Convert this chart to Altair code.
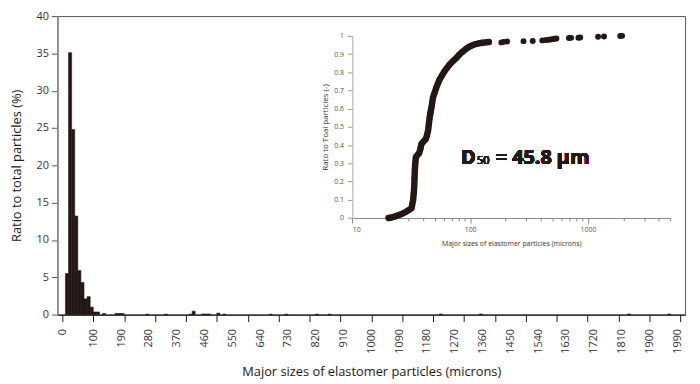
import altair as alt
import pandas as pd

DARK = "#231815"

# ---------------- main histogram ----------------
bin_start = [10, 20, 30, 40, 50, 60, 70, 80, 90, 100, 110, 130, 170, 180, 190,
             270, 330, 410, 420, 450, 460, 470, 500, 520, 670, 720, 820, 860,
             1220, 1350, 1830, 1960]
bin_pct = [5.5, 35.1, 24.8, 13.2, 5.9, 4.3, 2.1, 2.4, 1.0, 0.35, 0.35, 0.15, 0.15, 0.15, 0.15,
           0.06, 0.06, 0.05, 0.45, 0.08, 0.08, 0.08, 0.2, 0.06, 0.06, 0.06, 0.06, 0.06,
           0.08, 0.08, 0.08, 0.08]
BIN_W = 10

x_tick_values = list(range(0, 2001, 100))
x_label_values = [0, 100, 190, 280, 370, 460, 550, 640, 730, 820, 910, 1000, 1090, 1180,
                  1270, 1360, 1450, 1540, 1630, 1720, 1810, 1900, 1990]
y_tick_values = [0, 5, 10, 15, 20, 25, 30, 35, 40]

# ---------------- inset cumulative curve ----------------
cdf_size = [20.3, 21.5, 23.1, 24.6, 26.2, 27.5, 28.9, 30.3, 31.8, 32.8, 33.2, 33.5, 33.7,
            33.9, 34.2, 34.6, 35.6, 36.9, 37.8, 38.6, 40.2, 42.0, 43.0, 43.9, 44.6, 45.3,
            46.1, 46.9, 47.6, 48.3, 49.9, 51.5, 53.2, 55.0, 57.7, 60.5, 63.5, 66.7, 71.1,
            75.9, 80.8, 86.1, 92.0, 98.1, 104.5, 111.6, 119.0, 126.8, 135.0, 144.3,
            184, 193, 206, 284, 340, 410, 440, 460, 480, 500, 520, 540, 690, 720, 830, 860,
            1220, 1370, 1880, 1950]
cdf_ratio = [0.0, 0.003, 0.009, 0.015, 0.022, 0.029, 0.036, 0.045, 0.054, 0.099, 0.135, 0.171,
             0.215, 0.262, 0.3, 0.334, 0.345, 0.356, 0.38, 0.407, 0.42, 0.434, 0.455, 0.479,
             0.515, 0.551, 0.58, 0.606, 0.633, 0.66, 0.688, 0.714, 0.738, 0.76, 0.783, 0.805,
             0.824, 0.841, 0.86, 0.877, 0.896, 0.913, 0.928, 0.94, 0.948, 0.955, 0.959, 0.962,
             0.964, 0.966,
             0.964, 0.967, 0.969, 0.971, 0.972, 0.975, 0.977, 0.978, 0.98, 0.982, 0.984, 0.985,
             0.988, 0.989, 0.99, 0.991, 0.995, 0.996, 0.999, 1.0]

inset_major = [10, 100, 1000]
inset_x_ticks = [10, 20, 30, 40, 50, 60, 70, 80, 90, 100, 200, 300, 400, 500, 600, 700, 800,
                 900, 1000, 2000, 3000, 4000, 5000]
inset_y_ticks = [0, 0.1, 0.2, 0.3, 0.4, 0.5, 0.6, 0.7, 0.8, 0.9, 1]

hist_df = pd.DataFrame({"start": bin_start, "pct": bin_pct})
hist_df["end"] = hist_df["start"] + BIN_W
cdf_df = pd.DataFrame({"size": cdf_size, "ratio": cdf_ratio})

W, H = 635, 302

bars = alt.Chart(hist_df).mark_bar(color=DARK, stroke=DARK, strokeWidth=0.6,
                                   orient="vertical").encode(
    x=alt.X("start:Q",
            scale=alt.Scale(domain=[0, 2000], nice=False, zero=False),
            axis=alt.Axis(
                values=sorted(set(x_tick_values + x_label_values)),
                labelExpr=f"indexof({x_label_values}, datum.value) >= 0 ? datum.label : ''",
                format="d", labelAngle=270, labelOverlap=False,
                labelFontSize=11, labelColor="#333333", labelPadding=7,
                tickSize=7, tickColor=DARK,
                tickOpacity={"condition": {"test": "datum.value % 100 != 0", "value": 0}, "value": 1},
                domainColor=DARK, domainWidth=1.2,
                title="Major sizes of elastomer particles (microns)",
                titleFontSize=13, titleFontWeight="normal", titleColor=DARK, titlePadding=12)),
    x2="end:Q",
    y=alt.Y("pct:Q",
            scale=alt.Scale(domain=[0, 40], nice=False, zero=True),
            axis=alt.Axis(values=y_tick_values, labelFontSize=11, labelColor="#333333",
                          labelPadding=3, tickSize=6, tickColor="#555555",
                          domainColor="#888888", domainWidth=1.5,
                          title="Ratio to total particles (%)",
                          titleFontSize=13, titleFontWeight="normal", titleColor=DARK,
                          titlePadding=13)),
    y2=alt.datum(0),
)

inset_x = alt.X("size:Q",
                scale=alt.Scale(type="log", domain=[10, 5000], range=[298.4, 620], nice=False),
                axis=alt.Axis(orient="bottom", offset=-97.7, values=inset_x_ticks,
                              labelExpr=f"indexof({inset_major}, datum.value) >= 0 ? datum.label : ''",
                              format="d", labelOverlap=False, labelFontSize=7,
                              labelColor="#555555", labelPadding=3,
                              tickSize={"condition": {"test": f"indexof({inset_major}, datum.value) >= 0", "value": 5}, "value": 3},
                              tickColor="#888888", domainColor="#888888",
                              title="Major sizes of elastomer particles (microns)",
                              titleFontSize=7, titleFontWeight="normal",
                              titleColor="#333333", titlePadding=7))
inset_y = alt.Y("ratio:Q",
                scale=alt.Scale(domain=[0, 1], range=[204.3, 20], nice=False, zero=False),
                axis=alt.Axis(orient="left", offset=-298.4, values=inset_y_ticks, format="~g",
                              labelFontSize=7, labelColor="#555555", labelPadding=4,
                              tickSize=5, tickColor="#999999", domainColor="#aaaaaa",
                              title="Rato to Toal particles (-)",
                              titleFontSize=8, titleFontWeight="normal",
                              titleColor="#333333", titlePadding=4))

curve = alt.Chart(cdf_df).transform_filter("datum.size <= 150").mark_line(
    color=DARK, strokeWidth=6.5, strokeCap="round", strokeJoin="round"
).encode(x=inset_x, y=inset_y, order="ratio:Q")

points = alt.Chart(cdf_df).mark_circle(color=DARK, size=36, opacity=1).encode(
    x=inset_x, y=inset_y)

inset = alt.layer(curve, points)

ann_font = "Open Sans"
ann_d = alt.Chart(hist_df).mark_text(text="D", fontSize=20, fontWeight="bold", font=ann_font,
                                     align="left", baseline="alphabetic", color=DARK).encode(
    x=alt.value(408.4), y=alt.value(150))
ann_sub = alt.Chart(hist_df).mark_text(text="50", fontSize=11, fontWeight="normal", font=ann_font,
                                       align="left", baseline="alphabetic", color=DARK).encode(
    x=alt.value(424.5), y=alt.value(150))
ann_rest = alt.Chart(hist_df).mark_text(text="= 45.8 μm", fontSize=20, fontWeight="bold",
                                        font=ann_font, align="left", baseline="alphabetic",
                                        color=DARK).encode(
    x=alt.value(443.5), y=alt.value(150))

chart = alt.layer(bars, inset, ann_d, ann_sub, ann_rest).resolve_scale(
    x="independent", y="independent"
).properties(
    width=W, height=H,
    padding={"left": 50, "top": 6, "right": 7, "bottom": 64},
    autosize=alt.AutoSizeParams(type="none"),
).configure(font="Open Sans").configure_axis(grid=False).configure_view(
    stroke="#555555", strokeWidth=1)

chart.save("out.html", embed_options={"renderer": "svg", "actions": False})
